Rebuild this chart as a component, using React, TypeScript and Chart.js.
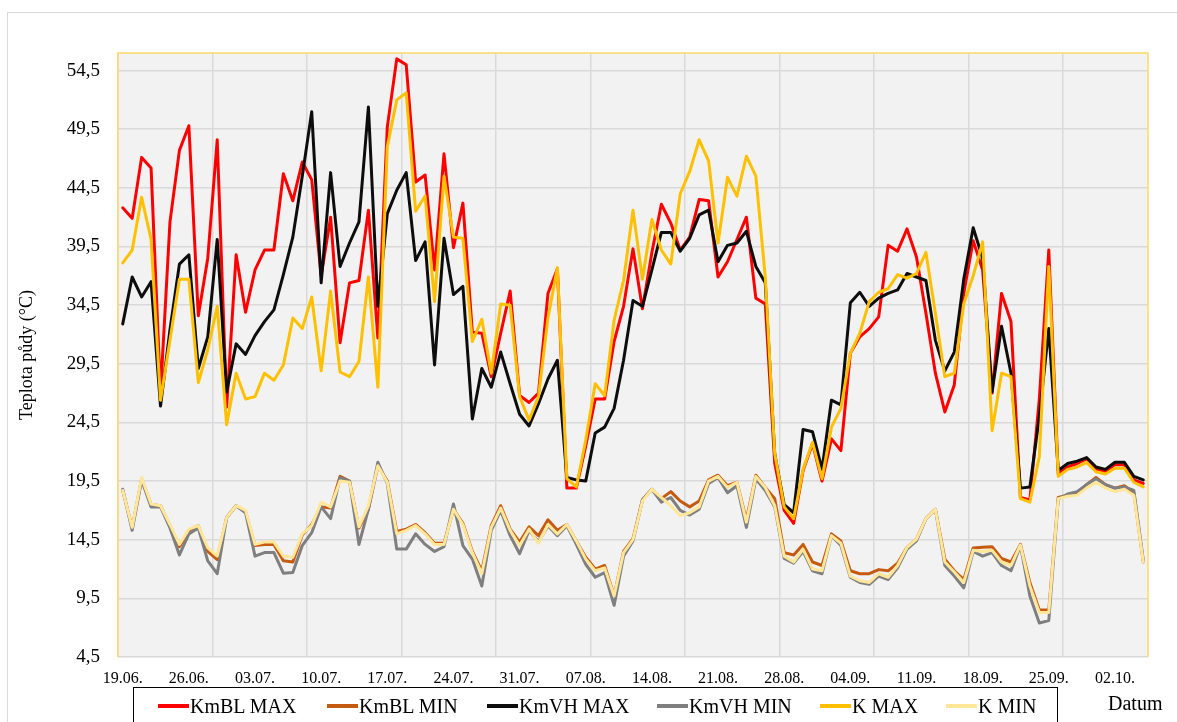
import React, { useEffect, useRef } from 'react';
import { Chart, registerables } from 'chart.js';

Chart.register(...registerables);

// ---------------- DATA ----------------
const dates = [
  '19.06.', '20.06.', '21.06.', '22.06.', '23.06.', '24.06.', '25.06.', '26.06.', '27.06.', '28.06.', '29.06.', '30.06.',
  '01.07.', '02.07.', '03.07.', '04.07.', '05.07.', '06.07.', '07.07.', '08.07.', '09.07.', '10.07.', '11.07.', '12.07.',
  '13.07.', '14.07.', '15.07.', '16.07.', '17.07.', '18.07.', '19.07.', '20.07.', '21.07.', '22.07.', '23.07.', '24.07.',
  '25.07.', '26.07.', '27.07.', '28.07.', '29.07.', '30.07.', '31.07.',
  '01.08.', '02.08.', '03.08.', '04.08.', '05.08.', '06.08.', '07.08.', '08.08.', '09.08.', '10.08.', '11.08.', '12.08.',
  '13.08.', '14.08.', '15.08.', '16.08.', '17.08.', '18.08.', '19.08.', '20.08.', '21.08.', '22.08.', '23.08.', '24.08.',
  '25.08.', '26.08.', '27.08.', '28.08.', '29.08.', '30.08.', '31.08.',
  '01.09.', '02.09.', '03.09.', '04.09.', '05.09.', '06.09.', '07.09.', '08.09.', '09.09.', '10.09.', '11.09.', '12.09.',
  '13.09.', '14.09.', '15.09.', '16.09.', '17.09.', '18.09.', '19.09.', '20.09.', '21.09.', '22.09.', '23.09.', '24.09.',
  '25.09.', '26.09.', '27.09.', '28.09.', '29.09.', '30.09.',
  '01.10.', '02.10.', '03.10.', '04.10.', '05.10.',
];

const xLabelEvery = 7;
const xGridEvery = 10;
const yTickValues = [4.5, 9.5, 14.5, 19.5, 24.5, 29.5, 34.5, 39.5, 44.5, 49.5, 54.5];
const yMin = 4.5;
const yMax = 56;

const kmblMax = [
  42.8, 41.9, 47.1, 46.2, 27.0, 41.6, 47.7, 49.8, 33.6, 38.5, 48.6, 25.8, 38.8, 33.9, 37.5, 39.2, 39.2, 45.7, 43.4, 46.7,
  45.2, 37.0, 42.0, 31.3, 36.4, 36.6, 42.6, 31.7, 49.7, 55.5, 55.0, 45.0, 45.6, 37.5, 47.4, 39.4, 43.2, 32.2, 32.1, 28.4,
  32.1, 35.7, 26.8, 26.2, 27.0, 35.5, 37.6, 18.9, 18.9, 22.5, 26.5, 26.5, 31.4, 34.4, 39.3, 34.2, 39.0, 43.1, 41.5, 39.2,
  40.3, 43.5, 43.4, 36.9, 38.2, 40.1, 42.0, 35.1, 34.6, 21.0, 17.0, 15.9, 20.4, 22.7, 19.5, 23.1, 22.1, 30.4, 31.8, 32.5,
  33.5, 39.6, 39.1, 41.0, 38.6, 33.8, 28.7, 25.4, 27.7, 35.5, 40.0, 37.5, 27.0, 35.5, 33.1, 18.1, 17.9, 26.5, 39.2, 20.1,
  20.7, 21.0, 21.4, 20.5, 20.3, 20.9, 20.9, 19.6, 19.3,
];

const kmblMin = [
  18.7, 15.5, 19.7, 17.5, 17.4, 15.7, 13.9, 15.3, 15.7, 13.5, 12.8, 16.4, 17.4, 16.9, 14.0, 14.1, 14.1, 12.7, 12.6, 14.9,
  15.8, 17.3, 17.2, 19.9, 19.5, 15.5, 17.1, 20.8, 19.5, 15.2, 15.4, 15.8, 15.1, 14.2, 14.2, 17.1, 15.9, 13.5, 11.85, 15.7,
  17.4, 15.4, 14.3, 15.6, 14.85, 16.2, 15.3, 15.8, 14.4, 13.0, 12.0, 12.3, 9.7, 13.5, 14.6, 17.9, 18.8, 18.0, 18.6, 17.8,
  17.3, 17.8, 19.6, 20.0, 19.1, 19.4, 16.2, 20.0, 18.95, 18.0, 13.4, 13.2, 14.1, 12.6, 12.3, 15.0, 14.4, 11.85, 11.6, 11.6,
  11.95, 11.85, 12.5, 13.85, 14.55, 16.3, 17.1, 12.85, 11.85, 11.1, 13.8, 13.85, 13.9, 12.9, 12.6, 14.1, 10.85, 8.5, 8.5, 18.1,
  18.3, 18.5, 19.2, 19.8, 19.2, 18.9, 19.1, 18.5, 12.6,
];

const kmvhMax = [
  32.9, 36.9, 35.2, 36.5, 25.9, 32.4, 38.0, 38.8, 29.1, 31.8, 40.1, 27.1, 31.2, 30.3, 31.9, 33.1, 34.1, 37.1, 40.3, 45.5,
  51.0, 36.4, 45.8, 37.8, 39.8, 41.6, 51.4, 34.4, 42.3, 44.3, 45.8, 38.3, 39.9, 29.4, 40.2, 35.4, 36.1, 24.8, 29.1, 27.5,
  30.5, 27.8, 25.2, 24.2, 26.1, 28.2, 29.8, 19.8, 19.6, 19.5, 23.6, 24.1, 25.7, 29.8, 34.9, 34.4, 37.5, 40.7, 40.7, 39.1,
  40.2, 42.2, 42.6, 38.2, 39.6, 39.8, 40.8, 37.8, 36.4, 21.8, 17.5, 16.8, 23.9, 23.7, 20.5, 26.4, 26.0, 34.7, 35.6, 34.4,
  35.1, 35.5, 35.8, 37.2, 36.9, 36.6, 31.5, 28.9, 30.5, 36.7, 41.1, 38.5, 27.1, 32.7, 28.7, 18.9, 19.0, 25.0, 32.5, 20.4,
  21.0, 21.2, 21.5, 20.7, 20.5, 21.1, 21.1, 19.9, 19.6,
];

const kmvhMin = [
  18.8, 15.3, 19.6, 17.3, 17.3, 15.5, 13.2, 15.0, 15.5, 12.7, 11.6, 16.4, 17.4, 16.8, 13.1, 13.4, 13.4, 11.65, 11.7, 14.0,
  15.1, 17.3, 16.3, 19.8, 19.5, 14.1, 17.1, 21.1, 19.3, 13.7, 13.7, 15.0, 14.1, 13.5, 13.9, 17.55, 14.0, 12.85, 10.55, 15.3,
  17.0, 14.85, 13.3, 15.3, 14.3, 15.7, 14.85, 15.7, 14.1, 12.4, 11.3, 11.7, 8.9, 13.1, 14.4, 17.9, 18.8, 17.7, 18.1, 17.0,
  16.6, 17.1, 19.3, 19.8, 18.5, 19.1, 15.55, 19.7, 18.7, 17.3, 12.9, 12.5, 13.5, 11.85, 11.6, 14.85, 14.0, 11.3, 10.85, 10.7,
  11.4, 11.1, 12.1, 13.7, 14.4, 16.3, 17.1, 12.3, 11.4, 10.4, 13.5, 13.1, 13.4, 12.3, 11.85, 14.0, 9.7, 7.4, 7.6, 17.95,
  18.4, 18.6, 19.2, 19.7, 19.2, 18.9, 19.0, 18.7, 12.8,
];

const kMax = [
  38.1, 39.2, 43.7, 40.1, 26.4, 31.5, 36.7, 36.7, 27.9, 30.7, 34.4, 24.3, 28.7, 26.5, 26.7, 28.7, 28.1, 29.4, 33.4, 32.5,
  35.2, 28.9, 35.7, 28.8, 28.4, 29.7, 36.9, 27.5, 48.0, 52.0, 52.6, 42.5, 43.8, 34.8, 45.5, 40.3, 40.2, 31.4, 33.3, 28.7,
  34.6, 34.5, 26.7, 24.7, 26.7, 33.4, 37.7, 19.7, 19.0, 23.0, 27.8, 26.8, 33.2, 36.6, 42.6, 36.7, 41.8, 39.2, 38.0, 44.0,
  45.9, 48.6, 46.8, 39.8, 45.4, 43.8, 47.2, 45.5, 36.9, 21.8, 17.3, 16.3, 20.5, 22.8, 19.7, 24.1, 25.7, 30.4, 32.1, 34.8,
  35.6, 35.9, 37.1, 36.8, 37.2, 39.0, 33.8, 28.4, 28.7, 34.6, 37.0, 39.9, 23.8, 28.7, 28.4, 18.0, 17.7, 21.6, 37.8, 19.9,
  20.5, 20.7, 21.1, 20.3, 20.1, 20.6, 20.6, 19.4, 19.0,
];

const kMin = [
  18.7, 15.55, 19.8, 17.55, 17.4, 15.8, 14.1, 15.4, 15.7, 13.8, 13.1, 16.4, 17.4, 17.0, 14.1, 14.3, 14.3, 13.1, 13.0, 15.0,
  15.7, 17.7, 17.3, 19.5, 19.4, 15.6, 17.4, 20.8, 19.4, 15.0, 15.3, 15.7, 15.0, 14.1, 14.1, 17.1, 15.8, 13.4, 11.6, 15.55,
  17.2, 15.3, 14.0, 15.4, 14.2, 15.8, 15.0, 15.8, 14.4, 12.85, 11.85, 12.1, 9.7, 13.4, 14.5, 17.8, 18.8, 18.1, 17.4, 16.55,
  16.8, 17.3, 19.5, 19.9, 18.95, 19.4, 16.0, 19.9, 18.95, 17.4, 13.1, 12.6, 13.7, 12.0, 11.85, 14.85, 14.2, 11.4, 11.0, 10.85,
  11.6, 11.3, 12.3, 13.85, 14.55, 16.3, 17.1, 12.6, 11.75, 10.85, 13.6, 13.5, 13.6, 12.6, 12.3, 14.05, 10.55, 8.3, 8.3, 18.0,
  18.2, 18.3, 18.9, 19.4, 18.9, 18.6, 18.8, 18.3, 12.6,
];

const seriesNames = ['KmBL MAX', 'KmBL MIN', 'KmVH MAX', 'KmVH MIN', 'K MAX', 'K MIN'];
const seriesColors = ['#FF0000', '#C55A11', '#0D0D0D', '#7F7F7F', '#FFC000', '#FFE699'];
const seriesData = [kmblMax, kmblMin, kmvhMax, kmvhMin, kMax, kMin];

const yTitle = 'Teplota půdy (°C)';
const xTitle = 'Datum';

const FONT = '"Liberation Serif", "Times New Roman", serif';

// legend item x positions (line sample start)
const legendX = [158, 327, 487, 657, 820, 946];

export default function App() {
  const ref = useRef<HTMLCanvasElement>(null);

  useEffect(() => {
    const canvas = ref.current;
    if (!canvas) return;

    const plotFrame = {
      id: 'plotFrame',
      beforeDraw(chart: any) {
        const { ctx, chartArea: a } = chart;
        ctx.save();
        ctx.fillStyle = '#F2F2F2';
        ctx.fillRect(a.left, a.top, a.right - a.left, a.bottom - a.top);
        ctx.restore();
      },
      beforeDatasetsDraw(chart: any) {
        const { ctx, chartArea: a } = chart;
        ctx.save();
        ctx.strokeStyle = '#FFD966';
        ctx.lineWidth = 1.5;
        ctx.beginPath();
        ctx.moveTo(a.left, a.bottom);
        ctx.lineTo(a.left, a.top);
        ctx.lineTo(a.right, a.top);
        ctx.lineTo(a.right, a.bottom);
        ctx.stroke();
        ctx.restore();
      },
    };

    const chart = new Chart(canvas, {
      type: 'line',
      data: {
        labels: dates,
        datasets: seriesData.map((d, i) => ({
          label: seriesNames[i],
          data: d,
          borderColor: seriesColors[i],
          backgroundColor: seriesColors[i],
          borderWidth: 3,
          pointRadius: 0,
          pointHoverRadius: 0,
          tension: 0,
          fill: false,
          borderJoinStyle: 'round' as const,
          borderCapStyle: 'round' as const,
          order: 5 - i,
        })),
      },
      options: {
        responsive: false,
        animation: false,
        devicePixelRatio: 1,
        layout: { padding: { left: 0, top: 53, right: 29, bottom: 0 } },
        plugins: {
          legend: { display: false },
          tooltip: { enabled: false },
          title: { display: false },
        },
        scales: {
          x: {
            type: 'category',
            offset: true,
            grid: {
              offset: true,
              drawTicks: false,
              lineWidth: 1.5,
              color: (c: any) => (c.index % xGridEvery === 0 ? '#D9D9D9' : 'rgba(0,0,0,0)'),
            },
            border: { display: false },
            ticks: {
              autoSkip: false,
              maxRotation: 0,
              minRotation: 0,
              padding: 12,
              color: '#000',
              font: { family: FONT, size: 16 },
              callback: (_v: any, i: number) => (i % xLabelEvery === 0 ? dates[i] : ''),
            },
            afterFit: (s: any) => {
              s.height = 65;
            },
          },
          y: {
            type: 'linear',
            min: yMin,
            max: yMax,
            grid: { drawTicks: false, color: '#D9D9D9', lineWidth: 1.5 },
            border: { display: false },
            afterBuildTicks: (s: any) => {
              s.ticks = yTickValues.map((v) => ({ value: v }));
            },
            ticks: {
              padding: 18,
              color: '#000',
              font: { family: FONT, size: 19 },
              callback: (v: any) => Number(v).toFixed(1).replace('.', ','),
            },
            title: {
              display: true,
              text: yTitle,
              color: '#000',
              font: { family: FONT, size: 18 },
              padding: { top: 16, bottom: 0 },
            },
            afterFit: (s: any) => {
              s.width = 118;
            },
          },
        },
      },
      plugins: [plotFrame],
    } as any);

    return () => chart.destroy();
  }, []);

  return (
    <div
      style={{
        position: 'absolute',
        left: 0,
        top: 0,
        width: 1177,
        height: 722,
        overflow: 'hidden',
        background: '#fff',
        fontFamily: FONT,
      }}
    >
      <div
        style={{
          position: 'absolute',
          left: 7,
          top: 12,
          width: 1190,
          height: 730,
          border: '1.5px solid #D9D9D9',
          boxSizing: 'border-box',
        }}
      />
      <canvas ref={ref} width={1177} height={722} style={{ position: 'absolute', left: 0, top: 0, width: 1177, height: 722 }} />
      <div
        style={{
          position: 'absolute',
          left: 133,
          top: 687,
          width: 925,
          height: 50,
          border: '1.5px solid #000',
          boxSizing: 'border-box',
          background: '#fff',
        }}
      />
      {seriesNames.map((n, i) => (
        <div
          key={n}
          style={{
            position: 'absolute',
            left: legendX[i],
            top: 693,
            height: 26,
            display: 'flex',
            alignItems: 'center',
            whiteSpace: 'nowrap',
            fontSize: 20,
            color: '#000',
          }}
        >
          <span style={{ display: 'inline-block', width: 31, height: 3.5, background: seriesColors[i], marginRight: 1 }} />
          <span>{n}</span>
        </div>
      ))}
      <div style={{ position: 'absolute', left: 1108, top: 692, fontSize: 20, color: '#000', whiteSpace: 'nowrap' }}>{xTitle}</div>
    </div>
  );
}
